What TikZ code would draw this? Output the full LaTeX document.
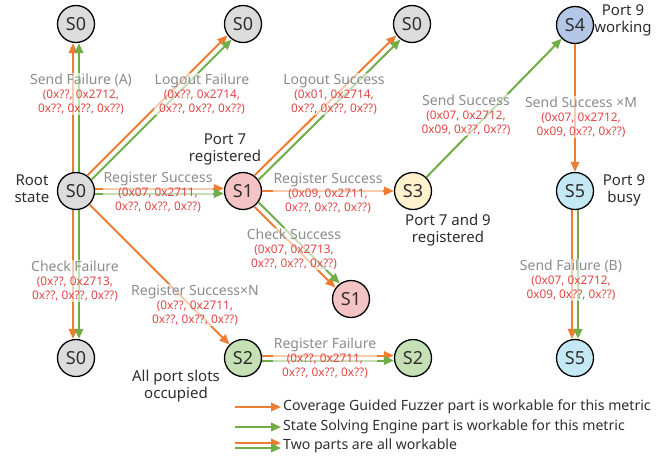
\documentclass[tikz,border=0pt]{standalone}
\usepackage{fontspec}
\setmainfont{Noto Sans}
\usetikzlibrary{arrows.meta}
\definecolor{cOr}{HTML}{ED7D31}
\definecolor{cGr}{HTML}{70AD47}
\definecolor{cLab}{HTML}{8C8C8C}
\definecolor{cRed}{HTML}{E04545}
\definecolor{cTxt}{HTML}{2E2E2E}
\definecolor{fGray}{HTML}{DCDCDC}
\definecolor{fPink}{HTML}{F4C4C4}
\definecolor{fYel}{HTML}{FFF2CC}
\definecolor{fBlue}{HTML}{B4C7E7}
\definecolor{fCyan}{HTML}{C4E8F4}
\definecolor{fGreen}{HTML}{C5E0B4}
\newcommand\elab[6]{%
  \node[lab] (#1) at (#2,#3) {{\color{cLab}\fontsize{14}{15}\selectfont #4}\\[0pt]{\color{cRed}#5}\\{\color{cRed}#6}};}
\begin{document}
\begin{tikzpicture}[x=1pt,y=-1pt,
  st/.style={circle, draw=black, line width=1.3pt, minimum size=37pt, inner sep=0pt,
    font=\fontsize{18}{18}\selectfont, text=cTxt},
  oa/.style={draw=cOr, line width=2pt, -{Triangle[length=10pt,width=8.5pt]}},
  ga/.style={draw=cGr, line width=2pt, -{Triangle[length=10pt,width=8.5pt]}},
  lab/.style={align=center, inner sep=1pt, fill=white, fill opacity=0.6, text opacity=1,
    font=\fontsize{11.8}{14}\selectfont},
  ann/.style={align=center, text=cTxt, font=\fontsize{15}{17}\selectfont},
  leg/.style={anchor=west, text=cTxt, font=\fontsize{14.1}{15}\selectfont, inner sep=0pt}]
\useasboundingbox (0,0) rectangle (667,456);

% states
\node[st, fill=fGray] (tl) at (76,24) {S0};
\node[st, fill=fGray] (tm) at (243,24) {S0};
\node[st, fill=fGray] (tr) at (412,24) {S0};
\node[st, fill=fBlue] (s4) at (575,25) {S4};
\node[st, fill=fGray] (root) at (76,191) {S0};
\node[st, fill=fPink] (s1) at (243,191) {S1};
\node[st, fill=fYel] (s3) at (413,191) {S3};
\node[st, fill=fCyan] (s5) at (575,191) {S5};
\node[st, fill=fPink] (s1b) at (351,299) {S1};
\node[st, fill=fGray] (bl) at (76,358) {S0};
\node[st, fill=fGreen] (s2) at (243,358) {S2};
\node[st, fill=fGreen] (s2b) at (413,358) {S2};
\node[st, fill=fCyan] (s5b) at (575,358) {S5};

% edges
\draw[oa, transform canvas={shift={(-3,0)}}] (root) -- (tl);
\draw[ga, transform canvas={shift={(3,0)}}] (root) -- (tl);
\draw[oa, transform canvas={shift={(-2.1,-2.1)}}] (root) -- (tm);
\draw[ga, transform canvas={shift={(2.1,2.1)}}] (root) -- (tm);
\draw[oa, transform canvas={shift={(-2.1,-2.1)}}] (s1) -- (tr);
\draw[ga, transform canvas={shift={(2.1,2.1)}}] (s1) -- (tr);
\draw[ga] (s3) -- (s4);
\draw[oa] (s4) -- (s5);
\draw[oa, transform canvas={shift={(0,-2.5)}}] (root) -- (s1);
\draw[ga, transform canvas={shift={(0,2.5)}}] (root) -- (s1);
\draw[oa] (s1) -- (s3);
\draw[oa, transform canvas={shift={(-2.1,2.1)}}] (s1) -- (s1b);
\draw[ga, transform canvas={shift={(2.1,-2.1)}}] (s1) -- (s1b);
\draw[oa, transform canvas={shift={(-3,0)}}] (root) -- (bl);
\draw[ga, transform canvas={shift={(3,0)}}] (root) -- (bl);
\draw[oa] (root) -- (s2);
\draw[oa, transform canvas={shift={(0,-2.5)}}] (s2) -- (s2b);
\draw[ga, transform canvas={shift={(0,2.5)}}] (s2) -- (s2b);
\draw[oa, transform canvas={shift={(-3,0)}}] (s5) -- (s5b);
\draw[ga, transform canvas={shift={(3,0)}}] (s5) -- (s5b);

% edge labels
\elab{e1}{81}{94}{Send Failure (A)}{(0x??, 0x2712,}{0x??, 0x??, 0x??)}
\elab{e2}{202}{94}{Logout Failure}{(0x??, 0x2714,}{0x??, 0x??, 0x??)}
\elab{e3}{334}{94}{Logout Success}{(0x01, 0x2714,}{0x??, 0x??, 0x??)}
\elab{e4}{466}{115}{Send Success}{(0x07, 0x2712,}{0x09, 0x??, 0x??)}
\elab{e5}{581}{117}{Send Success ×M}{(0x07, 0x2712,}{0x09, 0x??, 0x??)}
\elab{e6}{158}{192}{Register Success}{(0x07, 0x2711,}{0x??, 0x??, 0x??)}
\elab{e7}{328}{193}{Register Success}{(0x09, 0x2711,}{0x??, 0x??, 0x??)}
\elab{e8}{294}{249}{Check Success}{(0x07, 0x2713,}{0x??, 0x??, 0x??)}
\elab{e9}{75}{281}{Check Failure}{(0x??, 0x2713,}{0x??, 0x??, 0x??)}
\elab{e10}{195}{305}{Register Success×N}{(0x??, 0x2711,}{0x??, 0x??, 0x??)}
\elab{e11}{325}{358}{Register Failure}{(0x??, 0x2711,}{0x??, 0x??, 0x??)}
\elab{e12}{571}{280}{Send Failure (B)}{(0x07, 0x2712,}{0x09, 0x??, 0x??)}

% annotations
\node[ann] (a1) at (32,189) {Root\\state};
\node[ann] (a2) at (225,149) {Port 7\\registered};
\node[ann] (a3) at (448,230) {Port 7 and 9\\registered};
\node[ann] (a4) at (623,20) {Port 9\\working};
\node[ann] (a5) at (624,190) {Port 9\\busy};
\node[ann] (a6) at (176,386) {All port slots\\occupied};

% legend
\coordinate (l1a) at (235,407); \coordinate (l1b) at (281,407);
\coordinate (l2a) at (235,427); \coordinate (l2b) at (281,427);
\coordinate (l3a) at (235,445.5); \coordinate (l3b) at (281,445.5);
\draw[oa] (l1a) -- (l1b);
\draw[ga] (l2a) -- (l2b);
\draw[oa, transform canvas={shift={(0,-2.5)}}] (l3a) -- (l3b);
\draw[ga, transform canvas={shift={(0,2.5)}}] (l3a) -- (l3b);
\node[leg] (t1) at (283,407) {Coverage Guided Fuzzer part is workable for this metric};
\node[leg] (t2) at (283,427) {State Solving Engine part is workable for this metric};
\node[leg] (t3) at (283,446) {Two parts are all workable};
\end{tikzpicture}
\end{document}
